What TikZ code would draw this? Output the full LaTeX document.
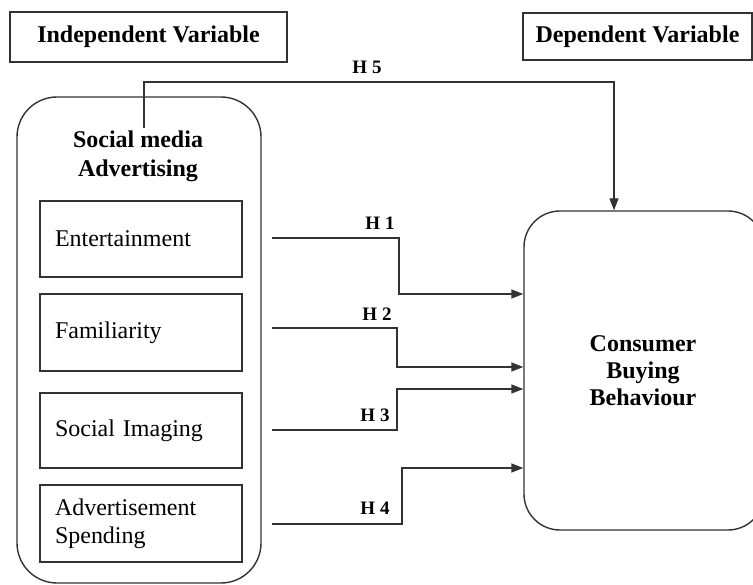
\documentclass[tikz,border=0pt]{standalone}
\usepackage{fontspec}
\setmainfont{Liberation Serif}
\usetikzlibrary{arrows.meta,calc}
\begin{document}
\begin{tikzpicture}[x=1pt,y=-1pt,
  line width=1.4pt,
  every node/.style={text=black},
  titlebox/.style={draw=black!80,rectangle,inner sep=0pt,font=\fontsize{24}{28}\selectfont\bfseries},
  outerbox/.style={draw=black!80,rectangle,rounded corners=40pt,inner sep=0pt},
  itembox/.style={draw=black!80,rectangle,inner xsep=15pt,inner ysep=0pt,minimum width=202pt,text width=172pt,align=left,font=\fontsize{24}{28}\selectfont},
  boldtext/.style={align=center,inner sep=0pt,font=\fontsize{24}{29}\selectfont\bfseries},
  hlabel/.style={inner sep=0pt,font=\fontsize{19}{22}\selectfont\bfseries},
  arr/.style={draw=black!80,-{Triangle[length=12pt,width=9pt]}},
  conn/.style={draw=black!80}]
\clip (0,0) rectangle (753,585);
\fill[white] (0,0) rectangle (753,585);
% titles
\node[titlebox,minimum width=277pt,minimum height=50pt] (iv) at (148.5,37) {Independent Variable};
\node[titlebox,minimum width=229pt,minimum height=47pt] (dv) at (637.5,36.5) {Dependent Variable};
% outer box
\node[outerbox,minimum width=244pt,minimum height=486pt] (sma) at (139,340) {};
\node[boldtext] (smal) at (138,156) {Social media\\Advertising};
% items
\node[itembox,minimum height=76pt] (ent) at (141,239) {Entertainment};
\node[itembox,minimum height=77pt] (fam) at (141,332.5) {Familiarity};
\node[itembox,minimum height=75pt] (soc) at (141,430.5) {Social Imaging};
\node[itembox,minimum height=77pt] (adv) at (141,523.5) {Advertisement\\Spending};
% dependent box
\node[outerbox,rounded corners=36pt,minimum width=240pt,minimum height=319pt] (cbb) at (644,370.5) {};
\node[boldtext,font=\fontsize{24}{27}\selectfont\bfseries] (cbbl) at (643,370.5) {Consumer\\Buying\\Behaviour};
% H5
\coordinate (h5s) at (144,128);
\coordinate (h5b) at (614,82);
\draw[arr] (h5s) |- (h5b) -- (h5b |- cbb.north);
\node[hlabel] (h5) at (367,67) {H 5};
% H1
\coordinate (h1s) at (272,238);
\coordinate (h1k) at (399,294);
\draw[arr] (h1s) -| (h1k) -- (h1k -| cbb.west);
\node[hlabel] (h1) at (380,223) {H 1};
% H2
\coordinate (h2s) at (272,328);
\coordinate (h2k) at (397,367);
\draw[arr] (h2s) -| (h2k) -- (h2k -| cbb.west);
\node[hlabel] (h2) at (377,314) {H 2};
% H3
\coordinate (h3s) at (272,430);
\coordinate (h3k) at (397,389);
\draw[arr] (h3s) -| (h3k) -- (h3k -| cbb.west);
\node[hlabel] (h3) at (375,415) {H 3};
% H4
\coordinate (h4s) at (272,524);
\coordinate (h4k) at (402,468);
\draw[arr] (h4s) -| (h4k) -- (h4k -| cbb.west);
\node[hlabel] (h4) at (375,508) {H 4};
\end{tikzpicture}
\end{document}
